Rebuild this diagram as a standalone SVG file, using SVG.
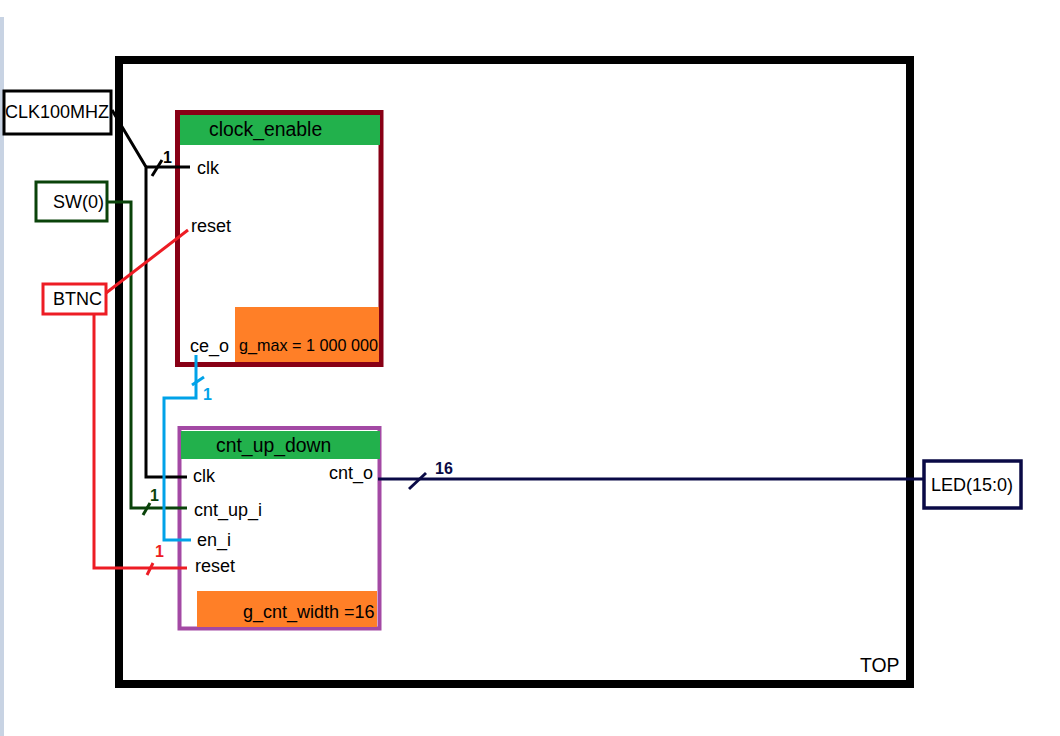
<svg xmlns="http://www.w3.org/2000/svg" width="1060" height="736" viewBox="0 0 1060 736">
<style>
text{font-family:"Liberation Sans",Arial,sans-serif;fill:#000}
.io{font-size:18px}
.port{font-size:18px}
.title{font-size:19.4px}
.par{font-size:16.2px}
.par2{font-size:18px}
.bw{font-size:16px;font-weight:bold}
.w{fill:none;stroke-width:3;stroke-linejoin:miter}
</style>
<rect x="0" y="17" width="4" height="719" fill="#c8d3e3"/>
<g id="top">
<rect x="119" y="60" width="791" height="624" fill="#fff" stroke="#000" stroke-width="8"/>
<text x="860" y="672" class="title">TOP</text>
</g>
<g id="clk100mhz">
<rect x="4" y="91" width="107" height="43" fill="#fff" stroke="#000" stroke-width="3"/>
<text x="5" y="118" class="io">CLK100MHZ</text>
</g>
<g id="sw0">
<rect x="36" y="182" width="71" height="39" fill="#fff" stroke="#0a430a" stroke-width="3"/>
<text x="53" y="208" class="io">SW(0)</text>
</g>
<g id="btnc">
<rect x="43" y="284" width="63" height="30" fill="#fff" stroke="#ed1c24" stroke-width="3"/>
<text x="53" y="305" class="io">BTNC</text>
</g>
<g id="led">
<rect x="924" y="461" width="97" height="47" fill="#fff" stroke="#0a0a46" stroke-width="3.5"/>
<text x="931" y="491" class="io">LED(15:0)</text>
</g>
<g id="clock_enable">
<rect x="177.5" y="112.5" width="203.5" height="252" fill="#fff" stroke="#880015" stroke-width="5"/>
<rect x="180" y="115" width="200" height="30" fill="#22b14c"/>
<rect x="235" y="307" width="144" height="55" fill="#ff7f27"/>
<text x="209" y="136" class="title">clock_enable</text>
<text x="197" y="174" class="port">clk</text>
<text x="191" y="232" class="port">reset</text>
<text x="190" y="352" class="port">ce_o</text>
<text x="239" y="351" class="par">g_max = 1 000 000</text>
</g>
<g id="cnt_up_down">
<rect x="179.5" y="428" width="200" height="200.5" fill="#fff" stroke="#a349a4" stroke-width="4"/>
<rect x="181" y="431" width="199" height="28" fill="#22b14c"/>
<rect x="197" y="591" width="180" height="36" fill="#ff7f27"/>
<text x="216" y="452" class="title">cnt_up_down</text>
<text x="193" y="482" class="port">clk</text>
<text x="194" y="516" class="port">cnt_up_i</text>
<text x="197" y="546" class="port">en_i</text>
<text x="195" y="572" class="port">reset</text>
<text x="329" y="479" class="port">cnt_o</text>
<text x="243" y="618" class="par2">g_cnt_width =16</text>
</g>
<g id="connectors">
<polyline class="w" stroke="#000" points="112,110 146,167 146,477 187,477"/>
<line class="w" stroke="#000" x1="146" y1="167" x2="190" y2="167"/>
<line class="w" stroke="#000" x1="152" y1="176" x2="162" y2="160"/>
<text x="163" y="163" class="bw">1</text>
<polyline class="w" stroke="#0a430a" points="107,202 131,202 131,508 187,508"/>
<line class="w" stroke="#0a430a" x1="143" y1="515" x2="150" y2="503"/>
<text x="150" y="501" class="bw" style="fill:#0a430a">1</text>
<line class="w" stroke="#ed1c24" x1="106" y1="293" x2="188" y2="230"/>
<polyline class="w" stroke="#ed1c24" points="94,314 94,568 187,568"/>
<line class="w" stroke="#ed1c24" x1="147" y1="575" x2="153" y2="563"/>
<text x="155" y="557" class="bw" style="fill:#ed1c24">1</text>
<polyline class="w" stroke="#00a2e8" points="196,355 196,398 164,398 164,540 191,540"/>
<line class="w" stroke="#00a2e8" x1="192" y1="385" x2="204" y2="377"/>
<text x="203" y="400" class="bw" style="fill:#00a2e8">1</text>
<line class="w" stroke="#0a0a46" x1="378" y1="479" x2="924" y2="479"/>
<line class="w" stroke="#0a0a46" x1="409" y1="489" x2="426" y2="473"/>
<text x="435" y="474" class="bw" style="fill:#0a0a46">16</text>
</g>
</svg>
